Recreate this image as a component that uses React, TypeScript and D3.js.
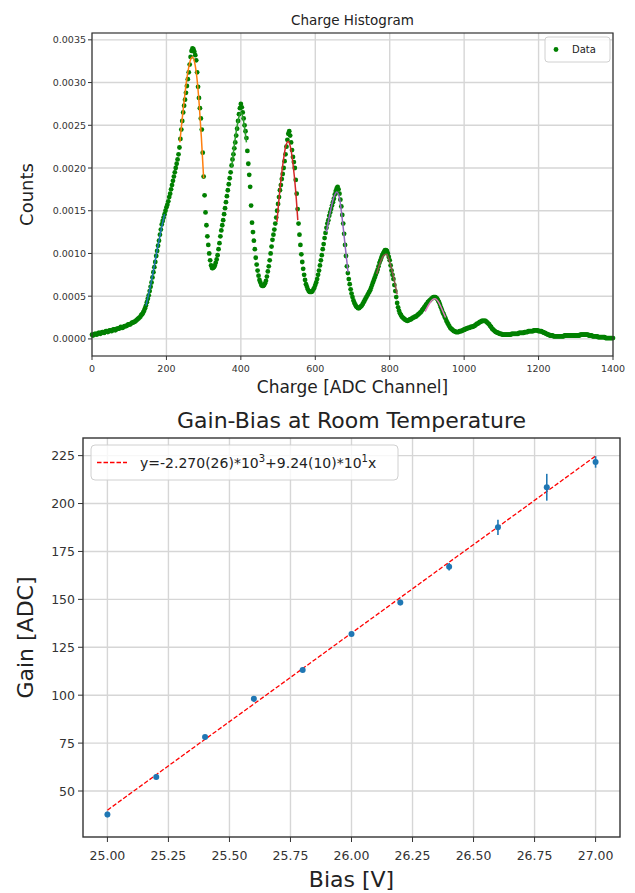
import React from "react";
import * as d3 from "d3";

// ---- Charge histogram ----
const BIN_WIDTH = 2.5; // ADC channels per bin, first bin at channel 0
// normalised counts per bin, in units of 1e-4 (one row = 100 channels)
const countsE4 = [
  0.5, 0.4, 0.5, 0.6, 0.6, 0.5, 0.6, 0.7, 0.7, 0.6, 0.7, 0.8, 0.8, 0.7, 0.8, 0.9, 0.9, 0.8, 0.9, 1.0,
  1.0, 0.9, 1.0, 1.1, 1.1, 1.0, 1.1, 1.2, 1.2, 1.2, 1.3, 1.4, 1.3, 1.3, 1.4, 1.5, 1.5, 1.5, 1.6, 1.7,
  1.7, 1.7, 1.8, 1.9, 1.9, 2.0, 2.0, 2.1, 2.2, 2.3, 2.4, 2.5, 2.6, 2.8, 2.9, 3.1, 3.3, 3.6, 3.9, 4.3,
  4.7, 5.1, 5.6, 6.1, 6.6, 7.2, 7.8, 8.4, 9.0, 9.7, 10.3, 10.9, 11.5, 12.2, 12.8, 13.4, 13.8, 14.2, 14.6, 15.0,
  15.4, 15.7, 16.1, 16.6, 17.0, 17.5, 18.0, 18.5, 19.0, 19.5, 20.0, 20.5, 21.0, 21.6, 22.4, 23.4, 24.5, 25.5, 26.5, 27.3,
  28.0, 28.8, 29.6, 30.4, 31.2, 32.1, 33.0, 33.7, 34.0, 33.9, 33.6, 33.2, 32.6, 31.2, 29.5, 28.2, 27.0, 25.8, 24.5, 21.8,
  19.0, 16.8, 14.8, 13.3, 12.0, 11.0, 10.0, 9.2, 8.6, 8.3, 8.3, 8.4, 8.6, 8.9, 9.3, 9.8, 10.5, 11.2, 12.0, 12.7,
  13.3, 13.9, 14.6, 15.3, 16.0, 16.7, 17.4, 18.1, 18.8, 19.5, 20.3, 21.0, 21.6, 22.3, 23.0, 23.8, 24.6, 25.5, 26.3, 27.0,
  27.5, 27.1, 26.5, 25.8, 25.0, 24.3, 23.5, 22.0, 20.5, 19.2, 17.8, 15.6, 13.6, 12.5, 11.5, 10.5, 9.5, 8.7, 8.0, 7.4,
  6.9, 6.6, 6.3, 6.2, 6.2, 6.3, 6.5, 6.8, 7.3, 7.9, 8.5, 9.2, 10.0, 10.8, 11.6, 12.2, 12.8, 13.5, 14.2, 15.0,
  15.8, 16.6, 17.4, 18.0, 18.7, 19.3, 20.0, 20.8, 21.6, 22.5, 23.3, 24.0, 24.3, 23.8, 23.0, 22.1, 21.3, 20.7, 20.0, 18.6,
  17.0, 15.2, 13.5, 12.2, 11.0, 9.9, 9.0, 8.2, 7.5, 6.9, 6.4, 6.1, 5.8, 5.6, 5.5, 5.5, 5.5, 5.6, 5.8, 6.0,
  6.3, 6.6, 7.0, 7.5, 8.0, 8.6, 9.2, 9.8, 10.5, 11.1, 11.8, 12.4, 13.0, 13.5, 13.9, 14.4, 14.8, 15.2, 15.6, 16.0,
  16.4, 16.9, 17.3, 17.6, 17.8, 17.5, 17.0, 16.3, 15.5, 14.5, 13.5, 12.3, 11.0, 9.7, 8.5, 7.7, 7.0, 6.4, 5.8, 5.3,
  4.9, 4.5, 4.2, 4.0, 3.8, 3.7, 3.6, 3.6, 3.7, 3.8, 3.9, 4.1, 4.3, 4.5, 4.7, 4.9, 5.1, 5.3, 5.5, 5.7,
  6.0, 6.3, 6.6, 6.9, 7.2, 7.5, 7.8, 8.1, 8.5, 8.9, 9.2, 9.5, 9.8, 10.0, 10.2, 10.4, 10.4, 10.3, 10.0, 9.6,
  9.2, 8.6, 8.0, 7.5, 7.0, 6.3, 5.6, 4.9, 4.2, 3.7, 3.3, 3.0, 2.8, 2.6, 2.5, 2.4, 2.3, 2.2, 2.2, 2.1,
  2.2, 2.2, 2.3, 2.3, 2.4, 2.5, 2.5, 2.6, 2.6, 2.7, 2.8, 2.9, 3.0, 3.1, 3.2, 3.4, 3.5, 3.7, 3.8, 4.0,
  4.1, 4.3, 4.4, 4.5, 4.6, 4.7, 4.8, 4.9, 4.9, 4.9, 4.8, 4.7, 4.5, 4.3, 4.0, 3.7, 3.4, 3.1, 2.9, 2.6,
  2.4, 2.1, 1.9, 1.7, 1.5, 1.3, 1.2, 1.1, 1.0, 0.9, 0.9, 0.8, 0.8, 0.8, 0.8, 0.9, 0.9, 0.9, 1.0, 1.0,
  1.1, 1.1, 1.2, 1.2, 1.3, 1.3, 1.3, 1.4, 1.4, 1.4, 1.5, 1.5, 1.6, 1.7, 1.8, 1.8, 1.9, 2.0, 2.0, 2.1,
  2.1, 2.1, 2.1, 2.1, 2.0, 1.9, 1.8, 1.7, 1.5, 1.4, 1.2, 1.1, 1.0, 0.9, 0.8, 0.8, 0.7, 0.7, 0.6, 0.6,
  0.6, 0.5, 0.5, 0.5, 0.5, 0.5, 0.5, 0.5, 0.5, 0.5, 0.5, 0.6, 0.6, 0.6, 0.6, 0.6, 0.6, 0.6, 0.6, 0.7,
  0.7, 0.7, 0.7, 0.7, 0.7, 0.8, 0.8, 0.8, 0.8, 0.9, 0.9, 0.9, 0.9, 0.9, 0.9, 1.0, 1.0, 1.0, 1.0, 1.0,
  0.9, 0.9, 0.9, 0.9, 0.8, 0.8, 0.7, 0.7, 0.6, 0.6, 0.5, 0.5, 0.4, 0.4, 0.4, 0.4, 0.3, 0.3, 0.3, 0.3,
  0.3, 0.3, 0.3, 0.3, 0.3, 0.3, 0.3, 0.3, 0.4, 0.4, 0.4, 0.4, 0.4, 0.4, 0.4, 0.4, 0.4, 0.4, 0.4, 0.4,
  0.4, 0.4, 0.4, 0.4, 0.4, 0.5, 0.5, 0.5, 0.5, 0.5, 0.5, 0.5, 0.5, 0.5, 0.4, 0.4, 0.4, 0.4, 0.3, 0.3,
  0.3, 0.3, 0.3, 0.3, 0.2, 0.2, 0.2, 0.2, 0.2, 0.2, 0.2, 0.2, 0.1, 0.1, 0.1, 0.1, 0.1, 0.1, 0.1, 0.1,
  0.1,
];

// gaussian fits drawn over the peaks: [charge, counts x1e-4]
const fitPedestal = [[145, 3.9], [155, 5.8], [165, 8.0], [175, 10.4], [185, 12.6], [195, 14.6]];
const fitPeak1 = [[236, 23.0], [242, 25.6], [248, 28.0], [254, 30.2], [260, 31.8], [266, 32.8], [270, 33.0], [276, 32.3], [282, 30.5], [288, 27.5], [294, 23.5], [300, 18.8]];
const fitPeak2 = [[375, 20.0], [385, 23.5], [395, 26.0], [400, 26.5], [405, 26.0], [415, 23.0]];
const fitPeak3 = [[497, 13.7], [505, 17.5], [513, 20.5], [521, 22.6], [527, 23.1], [533, 22.5], [540, 20.5], [547, 17.5], [553, 13.9]];
const fitPeak4 = [[630, 12.5], [640, 14.8], [650, 16.6], [658, 17.2], [665, 16.5], [672, 14.2], [680, 11.0], [688, 7.8]];
const fitPeak5 = [[765, 7.6], [775, 9.0], [785, 9.8], [792, 9.9], [800, 9.0], [810, 7.3], [820, 5.2]];
const fitPeak6 = [[895, 3.2], [905, 4.0], [915, 4.6], [922, 4.7], [930, 4.4], [940, 3.5], [950, 2.5]];
const fitColors = ["#1f77b4", "#ff7f0e", "#2ca02c", "#d62728", "#9467bd", "#8c564b", "#e377c2"];

const chargeTicks = [0, 200, 400, 600, 800, 1000, 1200, 1400];
const countTicksE4 = [0, 5, 10, 15, 20, 25, 30, 35];

// ---- Gain vs bias ----
const biasV = [25.0, 25.2, 25.4, 25.6, 25.8, 26.0, 26.2, 26.4, 26.6, 26.8, 27.0];
const gainADC = [37.8, 57.3, 78.2, 98.1, 113.1, 131.9, 148.4, 167.0, 187.6, 208.5, 221.7];
const gainErr = [1.5, 1.0, 1.0, 1.5, 1.0, 1.0, 1.5, 2.0, 4.0, 7.0, 3.0];
const fitGain = [40.0, 58.5, 77.0, 95.4, 113.9, 132.4, 150.9, 169.4, 187.8, 206.3, 224.8];
const biasTicks = [25.0, 25.25, 25.5, 25.75, 26.0, 26.25, 26.5, 26.75, 27.0];
const gainTicks = [50, 75, 100, 125, 150, 175, 200, 225];

const FONT = "DejaVu Sans, sans-serif";
const GRID = "#d6d6d6";
const AXIS = "#333";

export default function App() {
  // top panel
  const tx = d3.scaleLinear().domain([0, 1400]).range([92, 613]);
  const ty = d3.scaleLinear().domain([-2.0, 35.8]).range([356, 33]);
  const tLine = d3
    .line<number[]>()
    .x((d) => tx(d[0]))
    .y((d) => ty(d[1]))
    .curve(d3.curveMonotoneX);
  const fits = [fitPedestal, fitPeak1, fitPeak2, fitPeak3, fitPeak4, fitPeak5, fitPeak6];

  // bottom panel
  const bx = d3.scaleLinear().domain([24.9, 27.1]).range([83, 620]);
  const by = d3.scaleLinear().domain([26.0, 234.2]).range([837, 438]);
  const fitLine = d3
    .line<number>()
    .x((_, i) => bx(biasV[i]))
    .y((d) => by(d));

  const [tx0, tx1] = tx.range();
  const [ty0, ty1] = ty.range();
  const [bx0, bx1] = bx.range();
  const [by0, by1] = by.range();

  return (
    <svg
      width={635}
      height={893}
      style={{ position: "absolute", left: 0, top: 0, background: "#fff" }}
      fontFamily={FONT}
    >
      {/* ===== Charge Histogram ===== */}
      <g>
        {chargeTicks.map((t) => (
          <line key={"gx" + t} x1={tx(t)} x2={tx(t)} y1={ty1} y2={ty0} stroke={GRID} strokeWidth={1.4} />
        ))}
        {countTicksE4.map((t) => (
          <line key={"gy" + t} x1={tx0} x2={tx1} y1={ty(t)} y2={ty(t)} stroke={GRID} strokeWidth={1.4} />
        ))}
        {countsE4.map((c, i) => (
          <circle key={i} cx={tx(i * BIN_WIDTH)} cy={ty(c)} r={2.4} fill="#008000" />
        ))}
        {fits.map((f, i) => (
          <path key={"fit" + i} d={tLine(f) || ""} fill="none" stroke={fitColors[i]} strokeWidth={1.5} />
        ))}
        <rect x={tx0} y={ty1} width={tx1 - tx0} height={ty0 - ty1} fill="none" stroke={AXIS} strokeWidth={1.2} />
        {chargeTicks.map((t) => (
          <g key={"tx" + t}>
            <line x1={tx(t)} x2={tx(t)} y1={ty0} y2={ty0 + 4} stroke={AXIS} />
            <text x={tx(t)} y={ty0 + 16} fontSize={9.5} textAnchor="middle" fill="#333">
              {t}
            </text>
          </g>
        ))}
        {countTicksE4.map((t) => (
          <g key={"ty" + t}>
            <line x1={tx0 - 4} x2={tx0} y1={ty(t)} y2={ty(t)} stroke={AXIS} />
            <text x={tx0 - 6} y={ty(t)} fontSize={9.5} textAnchor="end" dominantBaseline="central" fill="#333">
              {(t * 1e-4).toFixed(4)}
            </text>
          </g>
        ))}
        <text x={(tx0 + tx1) / 2} y={25} fontSize={13.5} textAnchor="middle" fill="#222">
          Charge Histogram
        </text>
        <text x={(tx0 + tx1) / 2} y={393} fontSize={17} textAnchor="middle" fill="#222">
          Charge [ADC Channel]
        </text>
        <text
          transform={`translate(33,${(ty0 + ty1) / 2}) rotate(-90)`}
          fontSize={18}
          textAnchor="middle"
          fill="#222"
        >
          Counts
        </text>
        {/* legend */}
        <rect x={545} y={37} width={65} height={25} rx={3} fill="#fff" fillOpacity={0.8} stroke="#d0d0d0" />
        <circle cx={556} cy={49.5} r={2.4} fill="#008000" />
        <text x={572} y={49.5} fontSize={10} dominantBaseline="central" fill="#222">
          Data
        </text>
      </g>

      {/* ===== Gain-Bias ===== */}
      <g>
        {biasTicks.map((t) => (
          <line key={"bgx" + t} x1={bx(t)} x2={bx(t)} y1={by1} y2={by0} stroke={GRID} strokeWidth={1.4} />
        ))}
        {gainTicks.map((t) => (
          <line key={"bgy" + t} x1={bx0} x2={bx1} y1={by(t)} y2={by(t)} stroke={GRID} strokeWidth={1.4} />
        ))}
        <path
          d={fitLine(fitGain) || ""}
          fill="none"
          stroke="#ff0000"
          strokeWidth={1.3}
          strokeDasharray="4.5,2"
        />
        {biasV.map((b, i) => (
          <g key={"pt" + i}>
            <line
              x1={bx(b)}
              x2={bx(b)}
              y1={by(gainADC[i] - gainErr[i])}
              y2={by(gainADC[i] + gainErr[i])}
              stroke="#1f77b4"
              strokeWidth={1.6}
            />
            <circle cx={bx(b)} cy={by(gainADC[i])} r={3} fill="#1f77b4" />
          </g>
        ))}
        <rect x={bx0} y={by1} width={bx1 - bx0} height={by0 - by1} fill="none" stroke={AXIS} strokeWidth={1.4} />
        {biasTicks.map((t) => (
          <g key={"bx" + t}>
            <line x1={bx(t)} x2={bx(t)} y1={by0} y2={by0 + 5} stroke={AXIS} />
            <text x={bx(t)} y={by0 + 23} fontSize={12.5} textAnchor="middle" fill="#333">
              {t.toFixed(2)}
            </text>
          </g>
        ))}
        {gainTicks.map((t) => (
          <g key={"by" + t}>
            <line x1={bx0 - 5} x2={bx0} y1={by(t)} y2={by(t)} stroke={AXIS} />
            <text x={bx0 - 8} y={by(t)} fontSize={12.5} textAnchor="end" dominantBaseline="central" fill="#333">
              {t}
            </text>
          </g>
        ))}
        <text x={(bx0 + bx1) / 2} y={428} fontSize={22} textAnchor="middle" fill="#222">
          Gain-Bias at Room Temperature
        </text>
        <text x={(bx0 + bx1) / 2} y={887} fontSize={22} textAnchor="middle" fill="#222">
          Bias [V]
        </text>
        <text
          transform={`translate(33,${(by0 + by1) / 2}) rotate(-90)`}
          fontSize={22}
          textAnchor="middle"
          fill="#222"
        >
          Gain [ADC]
        </text>
        {/* legend */}
        <rect x={91} y={445} width={307} height={35} rx={4} fill="#fff" fillOpacity={0.8} stroke="#d0d0d0" />
        <line x1={97} x2={127} y1={462.5} y2={462.5} stroke="#ff0000" strokeWidth={1.3} strokeDasharray="4.5,2" />
        <text x={140} y={468} fontSize={14} fill="#222">
          y=-2.270(26)*10
          <tspan dy={-6} fontSize={10}>3</tspan>
          <tspan dy={6}>+9.24(10)*10</tspan>
          <tspan dy={-6} fontSize={10}>1</tspan>
          <tspan dy={6}>x</tspan>
        </text>
      </g>
    </svg>
  );
}
